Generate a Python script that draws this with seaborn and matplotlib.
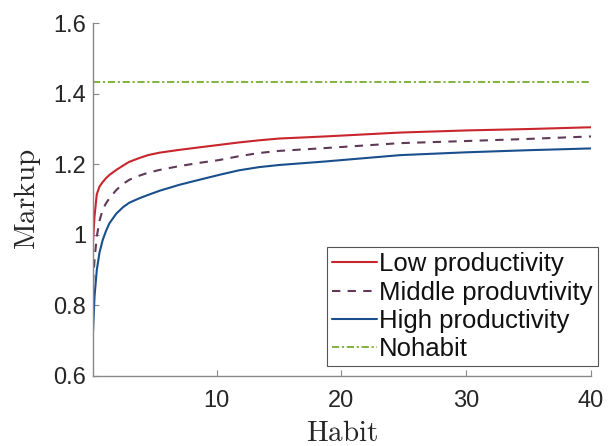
import matplotlib
matplotlib.use("Agg")
import matplotlib.pyplot as plt
import seaborn as sns

# Habit levels and markup by productivity group
habit = [0.1, 0.22, 0.4, 0.62, 0.88, 1.15, 1.42, 1.96, 2.49, 3.0, 3.83, 4.5,
         5.43, 7.03, 8.6, 10.2, 11.8, 13.4, 15, 18.7, 24.7, 30, 35, 40]
low_prod = [0.981, 1.052, 1.115, 1.137, 1.15, 1.161, 1.17, 1.184, 1.196, 1.207,
            1.218, 1.226, 1.233, 1.241, 1.248, 1.255, 1.262, 1.268, 1.273, 1.279,
            1.29, 1.296, 1.30, 1.305]
mid_prod = [0.863, 0.929, 0.995, 1.04, 1.072, 1.09, 1.104, 1.127, 1.144, 1.156,
            1.168, 1.176, 1.184, 1.195, 1.204, 1.212, 1.223, 1.232, 1.238, 1.246,
            1.26, 1.266, 1.272, 1.279]
high_prod = [0.726, 0.825, 0.9, 0.95, 0.986, 1.012, 1.033, 1.06, 1.078, 1.091,
             1.104, 1.113, 1.125, 1.142, 1.156, 1.17, 1.183, 1.192, 1.198, 1.208,
             1.226, 1.234, 1.24, 1.245]
nohabit_x = [0.1, 40]
nohabit = [1.434, 1.434]

labels = ["Low productivity", "Middle produvtivity", "High productivity", "Nohabit"]
xticks = [10, 20, 30, 40]
yticks = [0.6, 0.8, 1.0, 1.2, 1.4, 1.6]
ytick_labels = ["0.6", "0.8", "1", "1.2", "1.4", "1.6"]

sns.set_style("white")
plt.rcParams["font.family"] = ["Liberation Sans", "DejaVu Sans"]
plt.rcParams["mathtext.fontset"] = "cm"

fig = plt.figure(figsize=(6.08, 4.46), dpi=100)
ax = fig.add_axes([0.153, 0.157, 0.819, 0.791])

red = "#c8252c"
purple = "#5e3a57"
blue = "#1a4f8d"
green = "#77ac30"

sns.lineplot(x=habit, y=low_prod, ax=ax, color=red, lw=1.5, label=labels[0])
sns.lineplot(x=habit, y=mid_prod, ax=ax, color=purple, lw=1.5, label=labels[1])
ax.lines[-1].set_dashes([4, 3.5])
sns.lineplot(x=habit, y=high_prod, ax=ax, color=blue, lw=1.5, label=labels[2])
sns.lineplot(x=nohabit_x, y=nohabit, ax=ax, color=green, lw=1.3, label=labels[3])
ax.lines[-1].set_dashes([4, 1.5, 1.2, 1.5])

ax.set_xlim(0.1, 40)
ax.set_ylim(0.6, 1.6)
ax.set_xticks(xticks)
ax.set_yticks(yticks)
ax.set_yticklabels(ytick_labels)

for side in ["top", "right"]:
    ax.spines[side].set_visible(False)
for side in ["left", "bottom"]:
    ax.spines[side].set_color("#888888")
    ax.spines[side].set_linewidth(1.0)
ax.tick_params(direction="in", length=4, width=0.8, color="#888888",
               labelsize=17, labelcolor="#262626", left=True, bottom=True)
ax.tick_params(axis="y", pad=5)
ax.tick_params(axis="x", pad=10)

ax.set_xlabel(r"$\mathrm{Habit}$", fontsize=21, color="#262626", labelpad=5)
ax.set_ylabel(r"$\mathrm{Markup}$", fontsize=21, color="#262626", labelpad=7)

leg = ax.legend(loc="upper right", bbox_to_anchor=(598 / 608, 1 - 247 / 446),
                bbox_transform=fig.transFigure, fontsize=18.5, frameon=True,
                fancybox=False, edgecolor="#555555", framealpha=1,
                handlelength=1.75, handletextpad=0.08, labelspacing=0.17,
                borderpad=0.2, borderaxespad=0)
leg.get_frame().set_linewidth(0.8)
for t in leg.get_texts():
    t.set_color("#111111")

fig.savefig("out.png", dpi=100)
